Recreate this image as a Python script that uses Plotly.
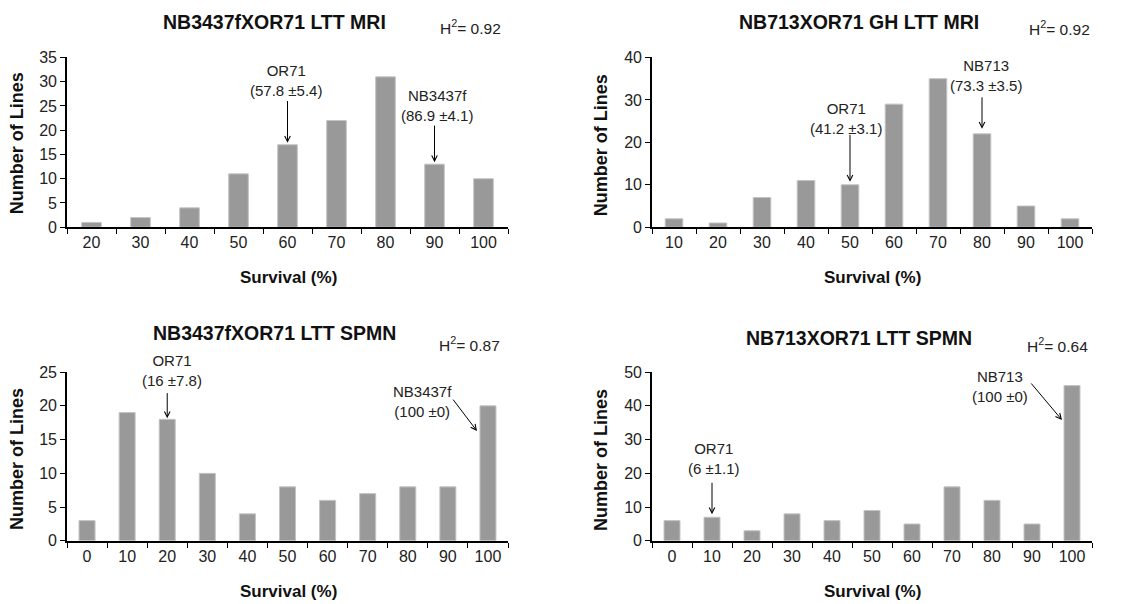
import plotly.graph_objects as go

W, H = 1146, 604

# ---------------- data ----------------
p1_cats = ["20", "30", "40", "50", "60", "70", "80", "90", "100"]
p1_vals = [1, 2, 4, 11, 17, 22, 31, 13, 10]

p2_cats = ["10", "20", "30", "40", "50", "60", "70", "80", "90", "100"]
p2_vals = [2, 1, 7, 11, 10, 29, 35, 22, 5, 2]

p3_cats = ["0", "10", "20", "30", "40", "50", "60", "70", "80", "90", "100"]
p3_vals = [3, 19, 18, 10, 4, 8, 6, 7, 8, 8, 20]

p4_cats = ["0", "10", "20", "30", "40", "50", "60", "70", "80", "90", "100"]
p4_vals = [6, 7, 3, 8, 6, 9, 5, 16, 12, 5, 46]

titles = ["NB3437fXOR71 LTT MRI", "NB713XOR71 GH LTT MRI",
          "NB3437fXOR71 LTT SPMN", "NB713XOR71 LTT SPMN"]
h2_labels = ["0.92", "0.92", "0.87", "0.64"]
y_max = [35, 40, 25, 50]
y_dtick = [5, 10, 5, 10]

FONT = "Liberation Sans, Arial, sans-serif"
BAR = "#999999"

# vertical compensation observed in the rendered screenshot
VS, VO = 0.973, 7.5


def px(x):
    return x / W


def py(y):
    return 1 - ((y - VO) / VS) / H


def dy(d):
    return d / VS


# panel pixel boxes: (left, right, top, bottom)
boxes = [(67, 508, 57, 227), (652, 1092, 57, 227),
         (67, 508, 372, 541), (652, 1092, 372, 541)]

fig = go.Figure()
data = [(p1_cats, p1_vals), (p2_cats, p2_vals), (p3_cats, p3_vals), (p4_cats, p4_vals)]

for i, ((cats, vals), (l, r, t, b)) in enumerate(zip(data, boxes)):
    k = "" if i == 0 else str(i + 1)
    fig.add_trace(go.Bar(x=cats, y=vals, xaxis="x" + k, yaxis="y" + k,
                         marker=dict(color=BAR, line=dict(color="#c4c4c4", width=1)),
                         showlegend=False, hoverinfo="x+y"))
    fig.layout["xaxis" + k] = dict(
        domain=[px(l), px(r)], anchor="y" + k, type="category",
        showline=True, linecolor="black", linewidth=2,
        ticks="outside", tickson="boundaries", ticklen=5, tickcolor="black", tickwidth=1,
        tickfont=dict(family=FONT, size=16, color="#222"), showgrid=False, zeroline=False,
        range=[-0.5, len(cats) - 0.5], fixedrange=True)
    fig.layout["yaxis" + k] = dict(
        domain=[py(b), py(t)], anchor="x" + k,
        range=[0, y_max[i]], dtick=y_dtick[i], tick0=0,
        showline=True, linecolor="black", linewidth=1.6,
        ticks="outside", ticklen=5, tickcolor="black", tickwidth=1,
        tickfont=dict(family=FONT, size=16, color="#222"), showgrid=False, zeroline=False,
        fixedrange=True)

anns = []
# titles
title_pos = [(274, 22), (859, 22), (274, 333), (859, 338)]
for t, (x, y) in zip(titles, title_pos):
    anns.append(dict(text="<b>" + t + "</b>", x=px(x), y=py(y), xref="paper", yref="paper",
                     showarrow=False, font=dict(family=FONT, size=19.5, color="#111"),
                     xanchor="center", yanchor="middle"))
# H2 labels (right-aligned)
h2_pos = [(503, 27), (1092, 28), (502, 344), (1090, 345)]
for h, (x, y) in zip(h2_labels, h2_pos):
    anns.append(dict(text="H<sup>2</sup>= " + h, x=px(x), y=py(y), xref="paper", yref="paper",
                     showarrow=False, font=dict(family=FONT, size=15.5, color="#222"),
                     xanchor="right", yanchor="middle"))
# axis titles
xt_pos = [(288, 277), (872, 277), (288, 592), (872, 592)]
for (x, y) in xt_pos:
    anns.append(dict(text="<b>Survival (%)</b>", x=px(x), y=py(y), xref="paper", yref="paper",
                     showarrow=False, font=dict(family=FONT, size=17, color="#111"),
                     xanchor="center", yanchor="middle"))
yt_pos = [(17, 143), (601, 145), (17, 459), (601, 460)]
for (x, y) in yt_pos:
    anns.append(dict(text="<b>Number of Lines</b>", x=px(x), y=py(y), xref="paper", yref="paper",
                     showarrow=False, textangle=-90, font=dict(family=FONT, size=18, color="#111"),
                     xanchor="center", yanchor="middle"))

# annotation texts
lab_font = dict(family=FONT, size=15, color="#222")
labels = [("OR71<br>(57.8 ±5.4)", 286, 80), ("NB3437f<br>(86.9 ±4.1)", 437, 105),
          ("OR71<br>(41.2 ±3.1)", 846, 118), ("NB713<br>(73.3 ±3.5)", 986, 75),
          ("OR71<br>(16 ±7.8)", 172, 370), ("NB3437f<br>(100 ±0)", 422, 401),
          ("OR71<br>(6 ±1.1)", 714, 459), ("NB713<br>(100 ±0)", 1000, 386)]
for t, x, y in labels:
    anns.append(dict(text=t, x=px(x), y=py(y), xref="paper", yref="paper", showarrow=False,
                     font=lab_font, xanchor="center", yanchor="middle"))

# vertical arrows pointing at bar tops (data coords; category index on x)
arrow_style = dict(showarrow=True, arrowhead=5, arrowsize=1.1, arrowwidth=1,
                   arrowcolor="black", text="", axref="pixel", ayref="pixel")
v_arrows = [("x", "y", p1_cats, p1_vals, "60", -44, 2),
            ("x", "y", p1_cats, p1_vals, "90", -39, 2),
            ("x2", "y2", p2_cats, p2_vals, "50", -50, 3),
            ("x2", "y2", p2_cats, p2_vals, "80", -37, 5),
            ("x3", "y3", p3_cats, p3_vals, "20", -27, 1),
            ("x4", "y4", p4_cats, p4_vals, "10", -35, 3)]
for xr, yr, cats, vals, c, ay, so in v_arrows:
    idx = cats.index(c)
    a = dict(arrow_style)
    a.update(x=idx, y=vals[idx], xref=xr, yref=yr, ax=0, ay=dy(ay), standoff=so)
    anns.append(a)

# diagonal arrows (tip in paper px, tail offset)
d_arrows = [(477, 431, -25, -32), (1062, 420, -32, -37)]
for x, y, ax, ay in d_arrows:
    a = dict(arrow_style)
    a.update(x=px(x), y=py(y), xref="paper", yref="paper", ax=ax, ay=dy(ay))
    anns.append(a)

fig.update_layout(width=W, height=H, margin=dict(l=0, r=0, t=0, b=0),
                  paper_bgcolor="white", plot_bgcolor="white", bargap=0.6,
                  annotations=anns, font=dict(family=FONT))

fig.write_html("out.html", config={"displayModeBar": False},
               post_script="document.body.style.margin='0';")
